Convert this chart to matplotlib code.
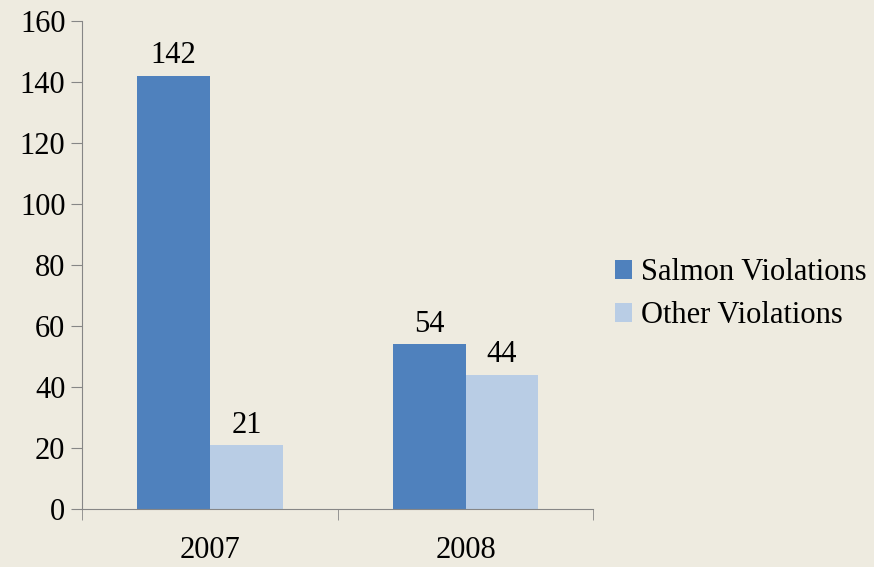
import numpy as np
import matplotlib.pyplot as plt

years = ['2007', '2008']
salmon = [142, 54]
other = [21, 44]
series_names = ['Salmon Violations', 'Other Violations']
colors = ['#4F81BD', '#B9CDE5']
bg = '#EEEBE0'

plt.rcParams['font.family'] = ['Liberation Serif', 'DejaVu Serif']

fig = plt.figure(figsize=(8.74, 5.67), dpi=100, facecolor=bg)
ax = fig.add_axes([0.094, 0.102, 0.585, 0.861], facecolor=bg)

x = np.arange(len(years))
w = 0.285
b1 = ax.bar(x - w / 2, salmon, w, color=colors[0], label=series_names[0])
b2 = ax.bar(x + w / 2, other, w, color=colors[1], label=series_names[1])
for bars in (b1, b2):
    ax.bar_label(bars, padding=4, fontsize=22)

ax.set_xlim(-0.5, len(years) - 0.5)
ax.set_ylim(0, 160)
ax.set_yticks(range(0, 161, 20))
ax.tick_params(axis='y', labelsize=22, length=8, color='#868686', pad=4)

# category labels without tick marks, boundary ticks as minor
ax.set_xticks(x)
ax.set_xticklabels(years)
ax.tick_params(axis='x', which='major', length=0, labelsize=22, pad=19)
ax.set_xticks(np.arange(-0.5, len(years), 1.0), minor=True)
ax.tick_params(axis='x', which='minor', length=8, color='#868686')

for s in ('top', 'right'):
    ax.spines[s].set_visible(False)
for s in ('left', 'bottom'):
    ax.spines[s].set_color('#868686')

ax.legend(loc='center left', bbox_to_anchor=(1.0, 0.44), frameon=False,
          fontsize=22, handlelength=0.55, handleheight=0.55, handletextpad=0.3,
          labelspacing=0.45, borderaxespad=0.3)

fig.savefig('out.png', dpi=100, facecolor=bg)
